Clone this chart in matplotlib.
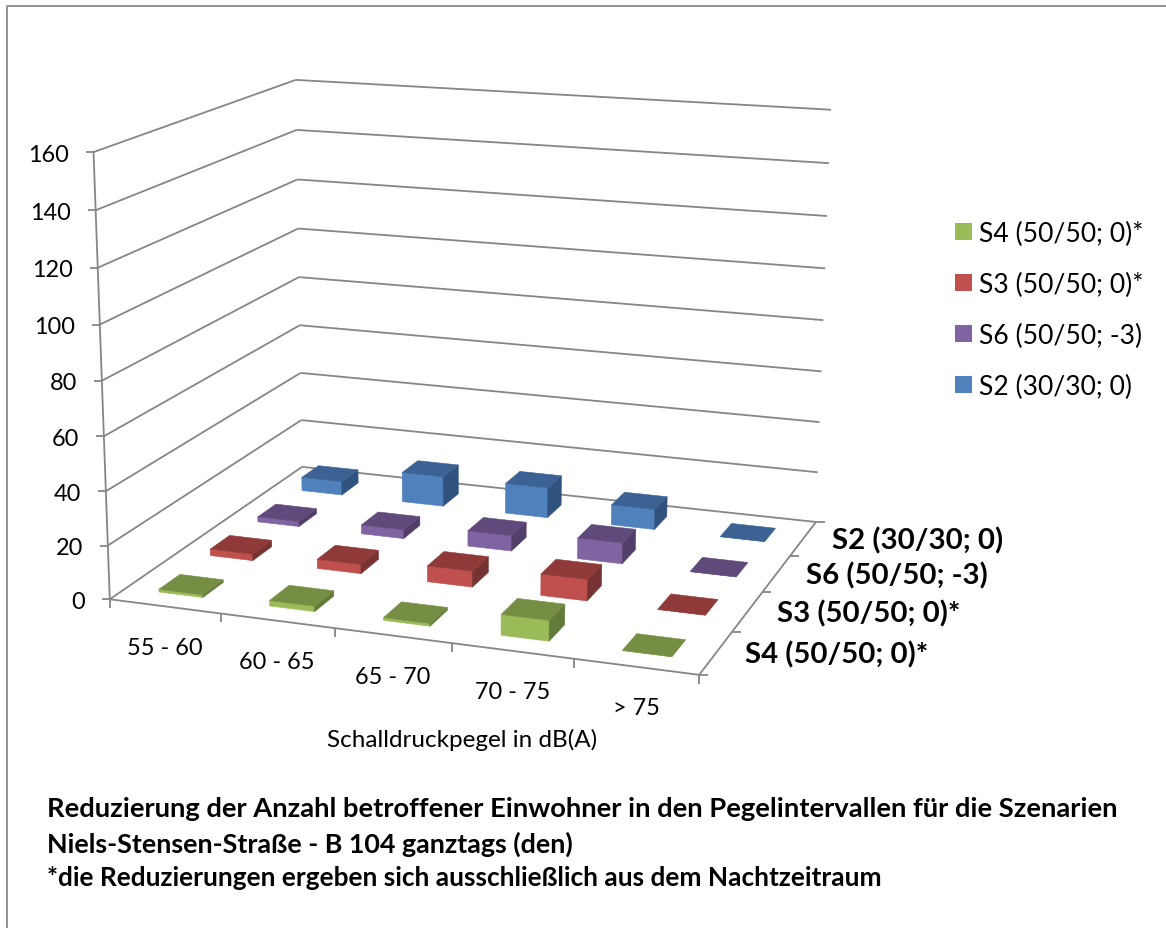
import numpy as np
import matplotlib
matplotlib.use("Agg")
import matplotlib.pyplot as plt
from matplotlib.patches import Polygon, Rectangle

# Chart data
categories = ["55 - 60", "60 - 65", "65 - 70", "70 - 75", "> 75"]
series_names = ["S4 (50/50; 0)*", "S3 (50/50; 0)*", "S6 (50/50; -3)", "S2 (30/30; 0)"]
s4_values = [1, 2, 1, 7.5, 0]
s3_values = [2.5, 3.5, 6, 8, 0]
s6_values = [2, 3.5, 6, 8, 0]
s2_values = [5.5, 12, 12, 8, 0]
series_values = [s4_values, s3_values, s6_values, s2_values]
y_ticks = [0, 20, 40, 60, 80, 100, 120, 140, 160]
title_lines = [
    "Reduzierung der Anzahl betroffener Einwohner in den Pegelintervallen für die Szenarien",
    "Niels-Stensen-Straße - B 104 ganztags (den)",
    "*die Reduzierungen ergeben sich ausschließlich aus dem Nachtzeitraum",
]
x_title = "Schalldruckpegel in dB(A)"

# Face colours per series: front, top, side
front_colors = ["#9BBB59", "#C0504D", "#8064A2", "#4F81BD"]
top_colors = ["#758E43", "#8F3A38", "#604A7B", "#3B6292"]
side_colors = ["#637A38", "#773331", "#513F69", "#30527F"]
GRID = "#868686"
FONT = "Lato"
Y_MAX = 160.0
BAR_FRAC = 0.40

W, H = 1166, 929
fig = plt.figure(figsize=(W / 100, H / 100), dpi=100)
ax = fig.add_axes([0, 0, 1, 1])
ax.set_xlim(0, W)
ax.set_ylim(H, 0)
ax.axis("off")

# Perspective camera solved from where the box corners of the plot sit on the canvas
anchors = [
    ((0, 0, 0), (110, 600)), ((1, 0, 0), (699, 676)), ((0, 1, 0), (302, 468)), ((1, 1, 0), (816, 523)),
    ((0, 0, 1), (93, 153)), ((0, 1, 1), (296, 81)), ((1, 1, 1), (831, 111)),
    ((0, 0, 0.125), (108, 547)), ((0, 1, 0.125), (301, 421)), ((1, 1, 0.125), (818, 473)),
    ((0, 0, 0.875), (96, 211)), ((1, 1, 0.875), (829, 164)),
]
rows, rhs = [], []
for (a, b, c), (u, v) in anchors:
    rows.append([a, b, c, 1, 0, 0, 0, 0, -u * a, -u * b, -u * c])
    rhs.append(u)
    rows.append([0, 0, 0, 0, a, b, c, 1, -v * a, -v * b, -v * c])
    rhs.append(v)
sol = np.linalg.lstsq(np.array(rows, float), np.array(rhs, float), rcond=None)[0]
P = np.append(sol, 1.0).reshape(3, 4)


def project(cat, depth, value):
    """Map (category position, series position, value) to canvas pixels."""
    p = P @ np.array([cat / len(categories), depth / len(series_names), value / Y_MAX, 1.0])
    return p[0] / p[2], p[1] / p[2]


def line(a, b):
    ax.plot([a[0], b[0]], [a[1], b[1]], color=GRID, lw=1.3, solid_capstyle="butt", zorder=1)


n_cat, n_ser = len(categories), len(series_names)

# Outer chart frame: only top and left edges are visible
ax.plot([7, 7, W], [H, 7, 7], color="#8a8a8a", lw=1.3, zorder=1)

# Walls and gridlines
for t in y_ticks:
    a, b, c = project(0, 0, t), project(0, n_ser, t), project(n_cat, n_ser, t)
    line(a, b)
    line(b, c)
    line((a[0] - 8, a[1]), a)
    ax.text(a[0] - 25, a[1] + 2, str(t), ha="right", va="center", fontsize=16.9, family=FONT, color="black")
line(project(0, 0, 0), project(0, 0, Y_MAX))

# Floor edges with their ticks
line(project(0, 0, 0), project(n_cat, 0, 0))
line(project(n_cat, 0, 0), project(n_cat, n_ser, 0))
for i in range(n_cat + 1):
    p = project(i, 0, 0)
    line(p, (p[0], p[1] + 9))
for j in range(n_ser + 1):
    p = project(n_cat, j, 0)
    line(p, (p[0] + 9, p[1]))

# Bars, painted from the back row to the front
for j in reversed(range(n_ser)):
    for i in range(n_cat):
        v = series_values[j][i]
        x0, x1 = i + 0.5 - BAR_FRAC / 2, i + 0.5 + BAR_FRAC / 2
        d0, d1 = j + 0.5 - BAR_FRAC / 2, j + 0.5 + BAR_FRAC / 2
        front = [project(x0, d0, 0), project(x1, d0, 0), project(x1, d0, v), project(x0, d0, v)]
        side = [project(x1, d0, 0), project(x1, d1, 0), project(x1, d1, v), project(x1, d0, v)]
        top = [project(x0, d0, v), project(x1, d0, v), project(x1, d1, v), project(x0, d1, v)]
        z = 3 + (n_ser - j)
        for pts, col in ((front, front_colors[j]), (side, side_colors[j]), (top, top_colors[j])):
            ax.add_patch(Polygon(pts, closed=True, facecolor=col, edgecolor=col, lw=0.4, zorder=z))

# Category labels under the front edge
for i, label in enumerate(categories):
    p = project(i + 0.5, 0, 0)
    ax.text(p[0], p[1] + 41, label, ha="center", va="center", fontsize=16.9, family=FONT, color="black")

# Series labels beside the right floor edge
for j, label in enumerate(series_names):
    p = project(n_cat, j + 0.5, 0)
    ax.text(p[0] + 29, p[1] + 1, label, ha="left", va="center", fontsize=21.2, family=FONT, weight="bold", color="black")

ax.text(462, 740, x_title, ha="center", va="center", fontsize=17.5, family=FONT, color="black")

# Legend, topmost entry first
for k, (label, col) in enumerate(zip(series_names, front_colors)):
    yc = 232 + 51 * k
    ax.add_patch(Rectangle((955, yc - 8.5), 17, 17, facecolor=col, edgecolor="none"))
    ax.text(979, yc + 2, label, ha="left", va="center", fontsize=19.1, family=FONT, color="black")

# Caption block, one size per line so each keeps its own run length
for y, size, txt in zip((809, 844, 878), (19.75, 19.4, 18.9), title_lines):
    ax.text(47, y, txt, ha="left", va="center", fontsize=size, family=FONT, weight="bold", color="black")

fig.savefig("out.png", dpi=100)
